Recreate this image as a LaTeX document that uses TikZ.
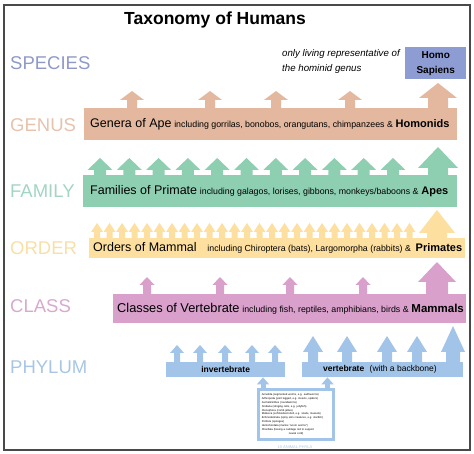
\documentclass[tikz,border=0pt]{standalone}
\usepackage{fontspec}
\setmainfont{Liberation Sans}
\usetikzlibrary{arrows.meta,positioning}
\definecolor{SpeciesLbl}{HTML}{8F99C8}
\definecolor{SapiensBox}{HTML}{8E9CD4}
\definecolor{GenusLbl}{HTML}{E6C2AC}
\definecolor{GenusBar}{HTML}{E3B89F}
\definecolor{FamilyLbl}{HTML}{A2D5C3}
\definecolor{FamilyBar}{HTML}{8ECFB2}
\definecolor{OrderLbl}{HTML}{F8DFA6}
\definecolor{OrderBar}{HTML}{FDDF9F}
\definecolor{ClassLbl}{HTML}{D7A9CE}
\definecolor{ClassBar}{HTML}{D8A0CB}
\definecolor{PhylumLbl}{HTML}{A8C6E4}
\definecolor{PhylumBar}{HTML}{A1C4E8}
\definecolor{FrameGray}{HTML}{4A4A4A}
% block arrow: x, shaft foot, head base, tip, half head, half shaft, colour
\newcommand{\blockup}[7]{\fill[#7] (#1-#6,#2) -- (#1-#6,#3) -- (#1-#5,#3) -- (#1,#4) -- (#1+#5,#3) -- (#1+#6,#3) -- (#1+#6,#2) -- cycle;}

\begin{document}
\begin{tikzpicture}[x=1pt,y=-1pt,
  rank/.style={anchor=west,inner sep=0pt,font=\fontsize{18.5}{20}\selectfont},
  bar/.style={rectangle,inner sep=0pt,anchor=north west},
  bartext/.style={anchor=west,inner sep=0pt}]
  \useasboundingbox (0,0) rectangle (474,454);
  \draw[FrameGray,line width=1.3pt] (4,5) rectangle (470,450);
  \node[font=\fontsize{17.5}{19}\selectfont\bfseries] (title) at (215,20) {Taxonomy of Humans};

  % species
  \node[rank,text=SpeciesLbl] (species) at (10,63) {SPECIES};
  \node[anchor=north west,inner sep=0pt,align=left,font=\fontsize{9.7}{15.5}\selectfont\itshape] (only) at (282,49) {only living representative of\\the hominid genus};
  \node[bar,fill=SapiensBox,minimum width=61pt,minimum height=32pt,align=center,font=\fontsize{10}{15}\selectfont\bfseries] (sapiens) at (405,47) {Homo\\Sapiens};

  % genus
  \node[rank,text=GenusLbl] (genuslbl) at (10,125) {GENUS};
  \node[bar,fill=GenusBar,minimum width=373pt,minimum height=32pt] (genus) at (84,108) {};
  \foreach \x in {132,210,276,350} {\blockup{\x}{108.5}{100}{91}{12}{5}{GenusBar}}
  \blockup{438}{108.5}{98}{83}{19}{10}{GenusBar}
  \node[bartext] (genustxt) at ([xshift=6pt]genus.west) {{\fontsize{12.5}{14}\selectfont Genera of Ape} {\fontsize{8.8}{10}\selectfont including gorrilas, bonobos, orangutans, chimpanzees \&} {\fontsize{11}{12}\selectfont\bfseries Homonids}};

  % family
  \node[rank,text=FamilyLbl] (familylbl) at (10,191) {FAMILY};
  \node[bar,fill=FamilyBar,minimum width=374pt,minimum height=32pt] (family) at (83,175) {};
  \foreach \i in {0,...,10} {\blockup{100+29.3*\i}{175.5}{170}{158}{12.5}{6}{FamilyBar}}
  \blockup{438}{175.5}{168}{147}{20}{10}{FamilyBar}
  \node[bartext] (familytxt) at ([xshift=7pt]family.west) {{\fontsize{12.5}{14}\selectfont Families of Primate} {\fontsize{8.8}{10}\selectfont including galagos, lorises, gibbons, monkeys/baboons \&} {\fontsize{11}{12}\selectfont\bfseries Apes}};

  % order
  \node[rank,text=OrderLbl] (orderlbl) at (10,248) {ORDER};
  \node[bar,fill=OrderBar,minimum width=376pt,minimum height=20pt] (order) at (89,238) {};
  \foreach \i in {0,...,25} {\blockup{97+12.5*\i}{238.5}{232}{223}{6}{3}{OrderBar}}
  \blockup{437}{238.5}{233}{210}{18}{10}{OrderBar}
  \node[bartext] (ordertxt) at ([xshift=4pt]order.west) {{\fontsize{12.5}{14}\selectfont Orders of Mammal}\hspace{8pt} {\fontsize{8.8}{10}\selectfont including Chiroptera (bats), Largomorpha (rabbits) \&}\hspace{2pt} {\fontsize{11}{12}\selectfont\bfseries Primates}};

  % class
  \node[rank,text=ClassLbl] (classlbl) at (10,306) {CLASS};
  \node[bar,fill=ClassBar,minimum width=353pt,minimum height=29pt] (class) at (113,294) {};
  \foreach \x in {147,220,290,363} {\blockup{\x}{294.5}{285}{277}{7.5}{4}{ClassBar}}
  \blockup{437}{294.5}{282}{262}{19}{11}{ClassBar}
  \node[bartext] (classtxt) at ([xshift=4pt]class.west) {{\fontsize{12.8}{14}\selectfont Classes of Vertebrate} {\fontsize{8.8}{10}\selectfont including fish, reptiles, amphibians, birds \&} {\fontsize{11.5}{12}\selectfont\bfseries Mammals}};

  % phylum
  \node[rank,text=PhylumLbl] (phylumlbl) at (10,367) {PHYLUM};
  \node[bar,fill=PhylumBar,minimum width=119pt,minimum height=15pt] (invert) at (166,362) {};
  \node[bar,fill=PhylumBar,minimum width=161pt,minimum height=15pt] (vert) at (302,362) {};
  \foreach \x in {177,200,225,252,275} {\blockup{\x}{362.5}{353}{345}{7}{3}{PhylumBar}}
  \foreach \x in {313,347,387,417} {\blockup{\x}{362.5}{352}{336}{10}{5}{PhylumBar}}
  \blockup{453}{362.5}{352}{326}{12}{7}{PhylumBar}
  \node[font=\fontsize{8.5}{10}\selectfont\bfseries] (inverttxt) at (invert.center) {invertebrate};
  \node[bartext,font=\fontsize{8.5}{10}\selectfont] (verttxt) at ([xshift=21pt]vert.west) {\textbf{vertebrate}\hspace{3pt} (with a backbone)};

  % ten phyla
  \node[draw=PhylumBar,line width=2.5pt,fill=white,anchor=north west,minimum width=75pt,minimum height=50pt,inner sep=3pt,text width=68pt,align=left,font=\fontsize{2.7}{3.9}\selectfont] (phyla) at (257,388) {Annelida (segmented worms, e.g. earthworms)\\Arthropoda (joint legged, e.g. insects, spiders)\\Aschelminthes (roundworms)\\Cnidaria (stinging cells, e.g. jellyfish)\\Ctenophora (comb jellies)\\Mollusca (soft-bodied shell, e.g. snails, mussels)\\Echinodermata (spiny skin creatures, e.g. starfish)\\Porifera (sponges)\\Hemichordata (marine ``acorn worms'')\\Chordata (having a cartilage rod to support\\\hspace*{27pt}neural cord)};
  \draw[PhylumBar,line width=5pt,-{Triangle[width=12pt,length=7pt]}] ([xshift=6pt]phyla.north west) -- ([xshift=6pt]phyla.north west |- invert.south);
  \draw[PhylumBar,line width=5pt,-{Triangle[width=12pt,length=7pt]}] ([xshift=-7pt]phyla.north east) -- ([xshift=-7pt]phyla.north east |- vert.south);
  \node[text=PhylumLbl,font=\fontsize{4}{5}\selectfont] (phylacap) at (295,447) {10 ANIMAL PHYLA};
\end{tikzpicture}
\end{document}
